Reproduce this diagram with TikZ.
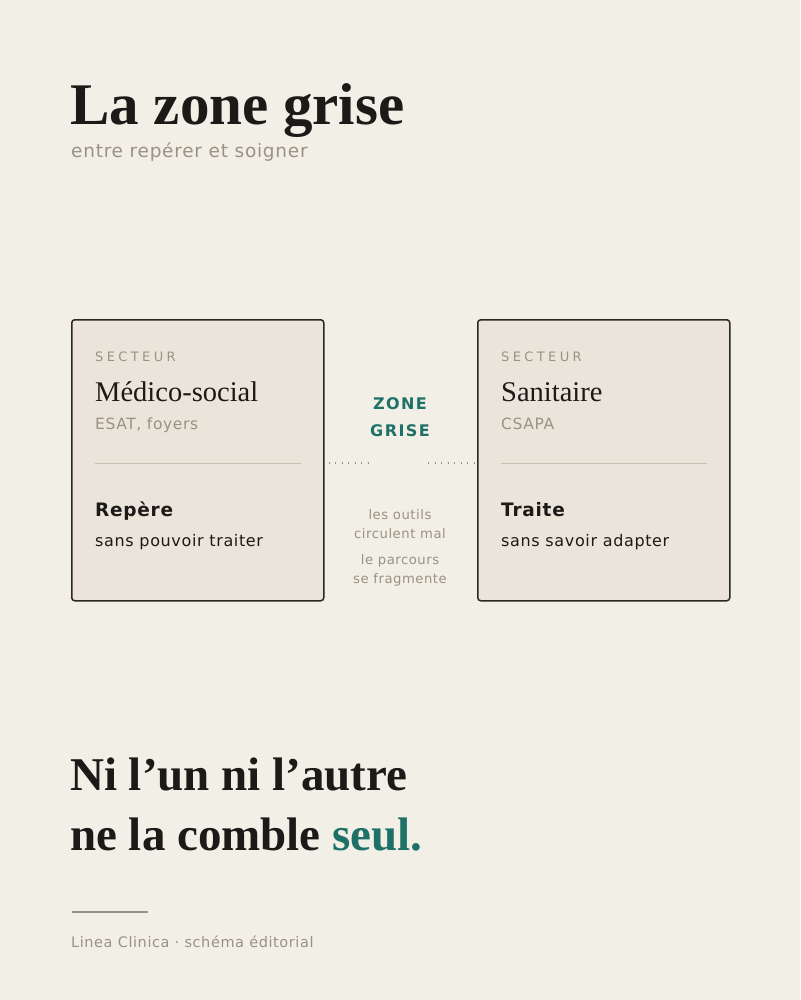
\documentclass[tikz,border=0pt]{standalone}
\usepackage{fontspec}
\setmainfont{Liberation Serif}
\setsansfont[LetterSpace=4]{DejaVu Sans}
\newfontfamily\capsfont[LetterSpace=26]{DejaVu Sans}
\newfontfamily\zonefont[LetterSpace=9]{DejaVu Sans}
\usetikzlibrary{positioning, calc}
\definecolor{pageBg}{RGB}{242, 239, 231}
\definecolor{boxBg}{RGB}{234, 228, 218}
\definecolor{boxFg}{RGB}{42, 40, 37}
\definecolor{inkDark}{RGB}{28, 26, 23}
\definecolor{inkGrey}{RGB}{154, 146, 130}
\definecolor{ruleGrey}{RGB}{201, 193, 180}
\definecolor{tealFg}{RGB}{31, 113, 103}
\tikzset{
  txt/.style = {anchor=base west, inner sep=0pt, text=inkDark},
  ctxt/.style = {anchor=base, inner sep=0pt, text=inkGrey, font=\sffamily\fontsize{13.2}{16}\selectfont},
  sector/.style = {draw=boxFg, fill=boxBg, line width=1.5pt, rounded corners=3pt, minimum width=252pt, minimum height=281pt, anchor=north west, inner sep=0pt},
  caps/.style = {txt, text=inkGrey, font=\capsfont\fontsize{13}{15}\selectfont},
  sectname/.style = {txt, font=\rmfamily\fontsize{28.5}{30}\selectfont},
  sectsub/.style = {txt, text=inkGrey, font=\sffamily\fontsize{15.5}{18}\selectfont},
  verb/.style = {txt, font=\sffamily\bfseries\fontsize{18.5}{22}\selectfont},
  verbsub/.style = {txt, font=\sffamily\fontsize{16}{18}\selectfont},
  zonecap/.style = {anchor=base, inner sep=0pt, text=tealFg, font=\zonefont\bfseries\fontsize{16}{19}\selectfont},
  closing/.style = {txt, font=\rmfamily\bfseries\fontsize{47}{52}\selectfont},
  sepline/.style = {draw=ruleGrey, line width=1pt},
  dotline/.style = {draw=inkGrey, line width=1.3pt, dash pattern=on 1.3pt off 5.2pt}
}

\begin{document}
\begin{tikzpicture}[x=1pt, y=-1pt]

\fill [pageBg] (0,0) rectangle (800,1000);

% title
\node (title) [txt, font=\rmfamily\bfseries\fontsize{59}{62}\selectfont] at (70,125) {La zone grise};
\node (subtitle) [txt, text=inkGrey, font=\sffamily\fontsize{18.5}{20}\selectfont] at (71,158) {entre repérer et soigner};

% left sector
\node (boxL) [sector] at (71,319) {};
\node (secL) [caps, xshift=24pt, yshift=-42pt] at(boxL.north west) {SECTEUR};
\node (nameL) [sectname, xshift=24pt, yshift=-82pt] at(boxL.north west) {Médico-social};
\node (subL) [sectsub, xshift=24pt, yshift=-110pt] at(boxL.north west) {ESAT, foyers};
\draw [sepline] ($(boxL.north west)+(24,144)$) -- ($(boxL.north east)+(-24,144)$);
\node (verbL) [verb, xshift=24pt, yshift=-197pt] at(boxL.north west) {Repère};
\node (vsubL) [verbsub, xshift=24pt, yshift=-227pt] at(boxL.north west) {sans pouvoir traiter};

% right sector
\node (boxR) [sector] at (477,319) {};
\node (secR) [caps, xshift=24pt, yshift=-42pt] at(boxR.north west) {SECTEUR};
\node (nameR) [sectname, xshift=24pt, yshift=-82pt] at(boxR.north west) {Sanitaire};
\node (subR) [sectsub, xshift=24pt, yshift=-110pt] at(boxR.north west) {CSAPA};
\draw [sepline] ($(boxR.north west)+(24,144)$) -- ($(boxR.north east)+(-24,144)$);
\node (verbR) [verb, xshift=24pt, yshift=-197pt] at(boxR.north west) {Traite};
\node (vsubR) [verbsub, xshift=24pt, yshift=-227pt] at(boxR.north west) {sans savoir adapter};

% the gap
\node (zone) [zonecap] at (400,409) {ZONE};
\node (grise) [zonecap] at (400,436) {GRISE};
\coordinate (dotL) at (372,463);
\coordinate (dotR) at (428,463);
\draw [dotline] (boxL.east |- dotL) ++(4,0) -- (dotL);
\draw [dotline] (dotR) -- ($(boxR.west |- dotR)+(-1,0)$);
\node (gap1) [ctxt] at (400,519) {les outils};
\node (gap2) [ctxt] at (400,538) {circulent mal};
\node (gap3) [ctxt] at (400,564) {le parcours};
\node (gap4) [ctxt] at (400,583) {se fragmente};

% closing line
\node (close1) [closing] at (70,790) {Ni l’un ni l’autre};
\node (close2) [closing] at (70,850) {ne la comble \textcolor{tealFg}{seul.}};

% footer
\draw [draw=inkGrey, line width=1.2pt] (72,912) -- (148,912);
\node (footer) [txt, text=inkGrey, font=\sffamily\fontsize{14.5}{17}\selectfont] at (71,947) {Linea Clinica · schéma éditorial};

\end{tikzpicture}
\end{document}
